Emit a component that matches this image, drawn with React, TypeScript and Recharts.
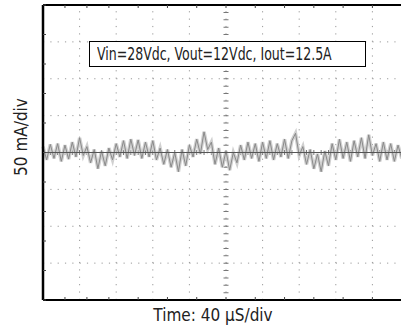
import React from 'react';
import { LineChart, Line, XAxis, YAxis, ReferenceLine } from 'recharts';

// scope settings: 10 x 40 µs, 8 x 50 mA
const timeDivs = [0, 40, 80, 120, 160, 200, 240, 280, 320, 360, 400];
const currentDivs = [-200, -150, -100, -50, 0, 50, 100, 150, 200];
const sampleStep = 4; // µs between samples

// ripple current (mA, deviation from the DC level), one sample every 4 µs
const ripple = [
  8, -10, 11, -8, 12, -12, 10, -9, 14, -6,
  20, -4, 8, -14, 4, -22, 2, -18, 6, -10,
  12, -6, 16, -8, 18, -4, 17, -8, 14, -6,
  16, -10, 6, -16, 4, -20, 0, -26, 4, -18,
  10, -6, 18, -2, 28, 4, 14, -16, 6, -20,
  2, -24, 0, -14, 10, -10, 14, -8, 12, -12,
  14, -8, 16, -10, 12, -6, 18, -8, 16, 26,
  -4, 8, -16, 4, -22, -2, -26, 2, -18, 12,
  -10, 18, -8, 14, -12, 16, -6, 20, -8, 24,
  -4, 12, -12, 14, -10, 12, -12, 10, -8, 14,
  -6,
];

const data = ripple.map((v, i) => ({ t: i * sampleStep, i: v }));

// minor ticks: 5 per division
const minorX = Array.from({ length: 51 }, (_, k) => k * 8);
const minorY = Array.from({ length: 41 }, (_, k) => -200 + k * 10);

const font = '"DejaVu Sans Condensed", "Liberation Sans Narrow", sans-serif';
const noLabel = () => <g />;

const App: React.FC = () => {
  return (
    <div style={{ position: 'absolute', left: 0, top: 0, width: 401, height: 332, overflow: 'hidden', background: '#fff' }}>
      <LineChart width={420} height={332} data={data} margin={{ top: 5, right: 11, bottom: 32, left: 43 }}>
        <XAxis dataKey="t" type="number" domain={[0, 400]} ticks={minorX} tick={noLabel} mirror tickSize={3}
          axisLine={{ stroke: '#000', strokeWidth: 2 }} tickLine={{ stroke: '#444' }} />
        <XAxis xAxisId="top" orientation="top" dataKey="t" type="number" domain={[0, 400]} ticks={minorX} tick={noLabel}
          mirror tickSize={3} axisLine={{ stroke: '#000', strokeWidth: 2 }} tickLine={{ stroke: '#444' }} />
        <YAxis type="number" domain={[-200, 200]} ticks={minorY} tick={noLabel} mirror tickSize={3}
          axisLine={{ stroke: '#000', strokeWidth: 2.5 }} tickLine={{ stroke: '#444' }} />
        {timeDivs.slice(1, -1).map((t) => (
          <ReferenceLine key={'v' + t} x={t} stroke="#999" strokeWidth={1} strokeDasharray="1.2 6.175" />
        ))}
        {currentDivs.slice(1, -1).map((c) => (
          <ReferenceLine key={'h' + c} y={c} stroke="#999" strokeWidth={1} strokeDasharray="1.2 6.12" />
        ))}
        {/* centre crosshair ticks */}
        <ReferenceLine x={200} stroke="#777" strokeWidth={5} strokeDasharray="1 6.375" strokeDashoffset={0.5} />
        <ReferenceLine y={0} stroke="#777" strokeWidth={5} strokeDasharray="1 6.32" strokeDashoffset={0.5} />
        <Line dataKey="i" type="linear" stroke="#d0d0d0" strokeWidth={3.5} dot={false} isAnimationActive={false} />
        <Line dataKey="i" type="linear" stroke="#8a8a8a" strokeWidth={1} dot={false} isAnimationActive={false} />
        <ReferenceLine y={0} stroke="#555" strokeWidth={1} />
      </LineChart>
      <div style={{ position: 'absolute', left: 89, top: 41, width: 277, height: 26, border: '1px solid #000', background: '#fff',
        boxSizing: 'border-box', overflow: 'hidden' }}>
        <span style={{ display: 'inline-block', fontFamily: font, fontSize: 17, lineHeight: '24px', color: '#222', whiteSpace: 'nowrap',
          marginLeft: 7, transform: 'scaleX(0.82)', transformOrigin: 'left center' }}>
          Vin=28Vdc, Vout=12Vdc, Iout=12.5A
        </span>
      </div>
      <div style={{ position: 'absolute', left: 113, top: 305, width: 200, textAlign: 'center', fontFamily: font, fontSize: 17, color: '#222' }}>
        Time: 40 μS/div
      </div>
      <div style={{ position: 'absolute', left: 21, top: 137, width: 120, height: 20, marginLeft: -60, marginTop: -10, textAlign: 'center',
        transform: 'rotate(-90deg)', fontFamily: font, fontSize: 17, lineHeight: '20px', color: '#222' }}>
        50 mA/div
      </div>
    </div>
  );
};

export default App;
